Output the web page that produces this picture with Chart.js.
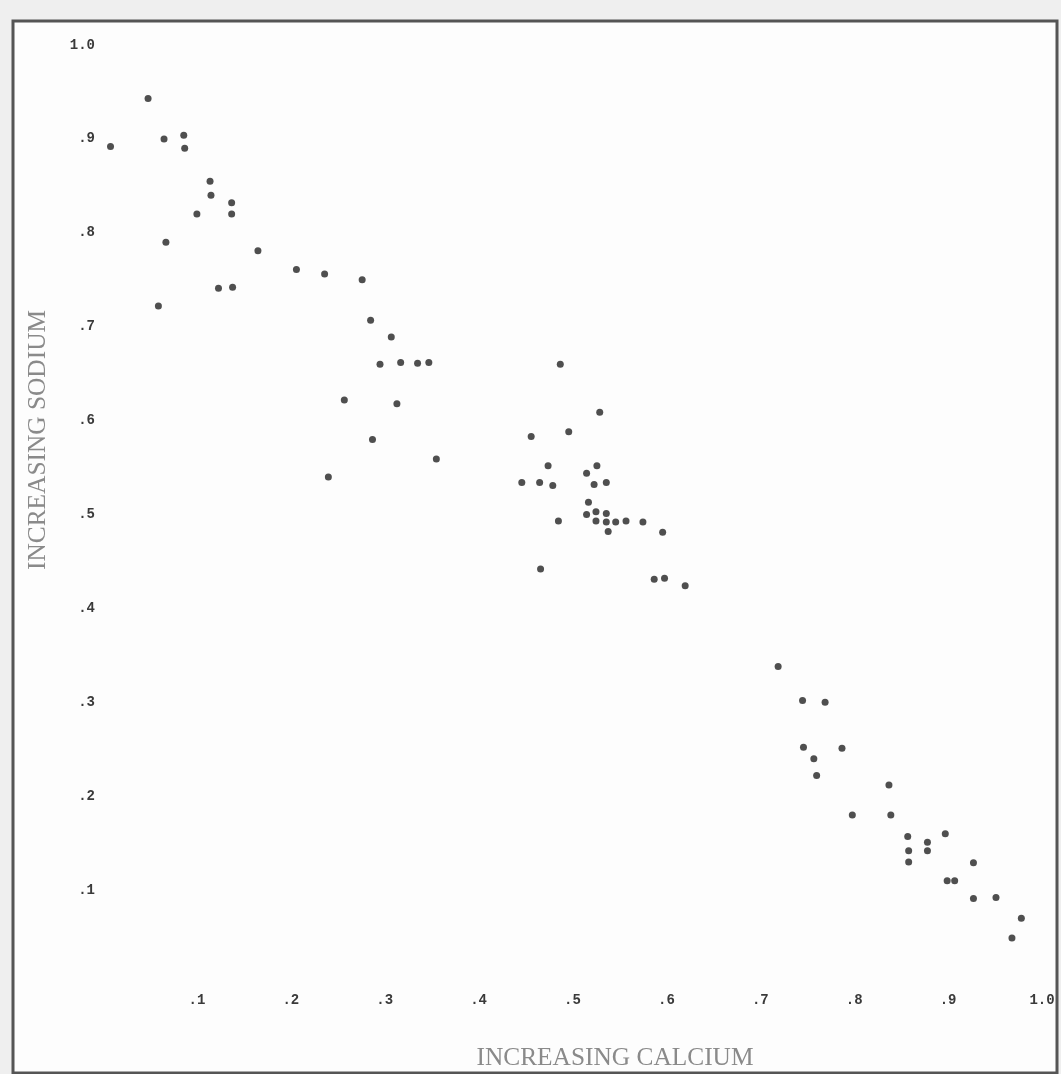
<!DOCTYPE html>
<html>
<head>
<meta charset="utf-8">
<script src="https://cdn.jsdelivr.net/npm/chart.js@4"></script>
<style>
  html, body { margin: 0; padding: 0; background: #efefef; }
  #wrap { width: 1061px; height: 1074px; }
</style>
</head>
<body>
<div id="wrap"><canvas id="scatter"></canvas></div>
<script>
// calcium (x) and sodium (y)
const calcium = [
  0.048, 0.008, 0.065, 0.086, 0.087, 0.114, 0.115, 0.137, 0.100, 0.137,
  0.067, 0.165, 0.206, 0.236, 0.276, 0.123, 0.138, 0.059, 0.285, 0.307,
  0.295, 0.317, 0.335, 0.347, 0.257, 0.313, 0.287, 0.355, 0.240, 0.487,
  0.529, 0.456, 0.496, 0.474, 0.526, 0.515, 0.446, 0.465, 0.479, 0.523,
  0.536, 0.517, 0.515, 0.525, 0.536, 0.485, 0.525, 0.536, 0.546, 0.557,
  0.575, 0.538, 0.596, 0.466, 0.587, 0.598, 0.620, 0.719, 0.745, 0.769,
  0.746, 0.787, 0.757, 0.760, 0.837, 0.798, 0.839, 0.857, 0.878, 0.858,
  0.878, 0.858, 0.897, 0.927, 0.899, 0.907, 0.927, 0.951, 0.978, 0.968
];
const sodium = [
  0.943, 0.892, 0.900, 0.904, 0.890, 0.855, 0.840, 0.832, 0.820, 0.820,
  0.790, 0.781, 0.761, 0.756, 0.750, 0.741, 0.742, 0.722, 0.707, 0.689,
  0.660, 0.662, 0.661, 0.662, 0.622, 0.618, 0.580, 0.559, 0.540, 0.660,
  0.609, 0.583, 0.588, 0.552, 0.552, 0.544, 0.534, 0.534, 0.531, 0.532,
  0.534, 0.513, 0.500, 0.503, 0.501, 0.493, 0.493, 0.492, 0.492, 0.493,
  0.492, 0.482, 0.481, 0.442, 0.431, 0.432, 0.424, 0.338, 0.302, 0.300,
  0.252, 0.251, 0.240, 0.222, 0.212, 0.180, 0.180, 0.157, 0.151, 0.142,
  0.142, 0.130, 0.160, 0.129, 0.110, 0.110, 0.091, 0.092, 0.070, 0.049
];
const xTitle = 'INCREASING CALCIUM';
const yTitle = 'INCREASING SODIUM';

// ".1" style labels, 1.0 kept whole, 0 left blank
function tickText(v) {
    const r = Math.round(v * 10) / 10;
    if (r === 0) return '';
    if (r === 1) return '1.0';
    return '.' + Math.round(r * 10);
}

const tickFont = { family: "'Liberation Mono', monospace", size: 14, weight: 'bold' };

// paper, frame and hand-set titles
const paperPlugin = {
    id: 'paper',
    beforeDraw(chart) {
        const ctx = chart.ctx;
        ctx.save();
        ctx.fillStyle = '#efefef';
        ctx.fillRect(0, 0, chart.width, chart.height);
        ctx.fillStyle = '#fdfdfd';
        ctx.fillRect(13, 21, 1044, 1052);
        ctx.strokeStyle = '#555';
        ctx.lineWidth = 3;
        ctx.strokeRect(13, 21, 1044, 1052);
        ctx.restore();
    },
    afterDraw(chart) {
        const ctx = chart.ctx;
        ctx.save();
        ctx.fillStyle = '#8a8a8a';
        ctx.font = "26px 'Liberation Serif', serif";
        ctx.textAlign = 'center';
        ctx.textBaseline = 'middle';

        let w = ctx.measureText(xTitle).width;
        ctx.translate(615, 1058);
        ctx.scale(277 / w, 1);
        ctx.fillText(xTitle, 0, 0);
        ctx.setTransform(1, 0, 0, 1, 0, 0);

        w = ctx.measureText(yTitle).width;
        ctx.translate(38, 440);
        ctx.rotate(-Math.PI / 2);
        ctx.scale(260 / w, 1);
        ctx.fillText(yTitle, 0, 0);
        ctx.restore();
    }
};

new Chart(document.getElementById('scatter'), {
    type: 'scatter',
    data: {
        datasets: [{
            data: calcium.map((c, i) => ({ x: c, y: sodium[i] })),
            backgroundColor: 'rgba(60, 60, 60, 0.9)',
            borderWidth: 0,
            pointRadius: 3.5
        }]
    },
    options: {
        responsive: true,
        maintainAspectRatio: false,
        animation: false,
        layout: { padding: { left: 20, top: 45, right: 19, bottom: 0 } },
        plugins: {
            legend: { display: false },
            tooltip: { enabled: false }
        },
        scales: {
            x: {
                type: 'linear',
                min: 0,
                max: 1,
                grid: { display: false },
                border: { display: false },
                ticks: {
                    stepSize: 0.1,
                    padding: 0,
                    maxRotation: 0,
                    color: '#3a3a3a',
                    font: tickFont,
                    callback: tickText
                },
                afterFit(scale) { scale.height = 90; }
            },
            y: {
                type: 'linear',
                min: 0,
                max: 1,
                grid: { display: false },
                border: { display: false },
                ticks: {
                    stepSize: 0.1,
                    padding: 0,
                    color: '#3a3a3a',
                    font: tickFont,
                    callback: tickText
                },
                afterFit(scale) { scale.width = 83; }
            }
        }
    },
    plugins: [paperPlugin]
});
</script>
</body>
</html>
